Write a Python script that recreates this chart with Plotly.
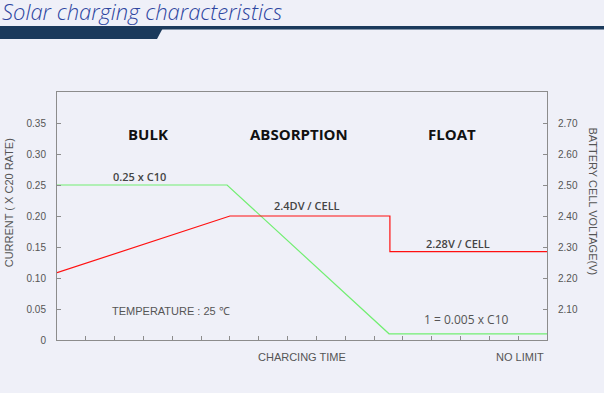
import plotly.graph_objects as go

# ---- data ----
time_current = [0, 5.9, 11.52, 17]
current_c20 = [0.25, 0.25, 0.01, 0.01]

time_voltage = [0, 6.0, 11.55, 11.55, 17]
cell_voltage = [2.217, 2.40, 2.40, 2.285, 2.285]

current_ticks = [0, 0.05, 0.10, 0.15, 0.20, 0.25, 0.30, 0.35]
current_labels = ["0", "0.05", "0.10", "0.15", "0.20", "0.25", "0.30", "0.35"]
voltage_ticks = [2.10, 2.20, 2.30, 2.40, 2.50, 2.60, 2.70]
voltage_labels = ["2.10", "2.20", "2.30", "2.40", "2.50", "2.60", "2.70"]
time_ticks = list(range(1, 17))

W, H = 604, 393
L, R, T, B = 57, 57, 92, 53
PW, PH = W - L - R, H - T - B

def px(x):
    return (x - L) / PW

def py(y):
    return (H - B - y) / PH

BG = "#eff0f8"
AXC = "#8c8c8c"
TICKF = dict(family="Liberation Sans, Arial, sans-serif", size=10, color="#555555")
SMALLF = dict(family="Liberation Sans, Arial", size=11, color="#555555")

fig = go.Figure()
fig.add_trace(go.Scatter(x=time_current, y=current_c20, mode="lines",
                         line=dict(color="#72ee72", width=1.2), yaxis="y",
                         hoverinfo="skip", showlegend=False))
fig.add_trace(go.Scatter(x=time_voltage, y=cell_voltage, mode="lines",
                         line=dict(color="#ff1010", width=1.2), yaxis="y2",
                         hoverinfo="skip", showlegend=False))

fig.update_layout(
    width=W, height=H,
    margin=dict(l=L, r=R, t=T, b=B, pad=0),
    paper_bgcolor=BG, plot_bgcolor=BG,
    showlegend=False,
    xaxis=dict(range=[0, 17], tickvals=time_ticks, showticklabels=False,
               ticks="inside", ticklen=4, tickcolor=AXC, showgrid=False,
               zeroline=False, showline=True, linecolor=AXC, linewidth=1,
               mirror=True, fixedrange=True),
    yaxis=dict(range=[0, 0.4], tickvals=current_ticks, ticktext=current_labels,
               ticks="inside", ticklen=4, tickcolor=AXC, tickfont=TICKF,
               ticklabelstandoff=8, showgrid=False, zeroline=False,
               showline=True, linecolor=AXC, linewidth=1, fixedrange=True),
    yaxis2=dict(range=[2.0, 2.8], tickvals=voltage_ticks, ticktext=voltage_labels,
                overlaying="y", side="right",
                ticks="inside", ticklen=4, tickcolor=AXC, tickfont=TICKF,
                ticklabelstandoff=8, showgrid=False, zeroline=False,
                showline=True, linecolor=AXC, linewidth=1, fixedrange=True),
)

# header decoration
NAVY = "#1b3a5c"
fig.add_shape(type="rect", xref="paper", yref="paper",
              x0=px(0), x1=px(W), y0=py(29.5), y1=py(26),
              fillcolor=NAVY, line=dict(width=0), layer="above")
fig.add_shape(type="path", xref="paper", yref="paper",
              path=f"M {px(0)},{py(26)} L {px(164)},{py(26)} L {px(157)},{py(39)} L {px(0)},{py(39)} Z",
              fillcolor=NAVY, line=dict(width=0), layer="above")

ann = []
# title
ann.append(dict(text="Solar charging characteristics", xref="paper", yref="paper",
                x=px(0), y=py(11), xanchor="left", yanchor="middle", showarrow=False,
                font=dict(family="Open Sans", size=22, color="#2d45a0",
                          style="italic", weight=300)))
# axis titles
ann.append(dict(text="CURRENT ( X C20 RATE)", xref="paper", yref="paper",
                x=px(9), y=py(203.3), textangle=-90, showarrow=False,
                xanchor="center", yanchor="middle", font=SMALLF))
ann.append(dict(text="BATTERY CELL VOLTAGE(V)", xref="paper", yref="paper",
                x=px(593.3), y=py(201.7), textangle=90, showarrow=False,
                xanchor="center", yanchor="middle", font=SMALLF))

phase_font = dict(family="Open Sans", size=15, color="#111111", weight=700)
for txt, xv in [("BULK", 3.147), ("ABSORPTION", 8.40), ("FLOAT", 13.70)]:
    ann.append(dict(text=txt, x=xv, y=0.3318, xref="x", yref="y", showarrow=False,
                    xanchor="center", yanchor="middle", font=phase_font))

label_font = dict(family="Open Sans", size=11, color="#444444", weight=600)
for txt, xv, yv in [("0.25 x C10", 2.856, 0.2634),
                    ("2.4DV / CELL", 8.66, 0.2173),
                    ("2.28V / CELL", 13.92, 0.156)]:
    ann.append(dict(text=txt, x=xv, y=yv, xref="x", yref="y", showarrow=False,
                    xanchor="center", yanchor="middle", font=label_font))

ann.append(dict(text="1 = 0.005 x C10", x=14.18, y=0.0323, xref="x", yref="y",
                showarrow=False, xanchor="center", yanchor="middle",
                font=dict(family="Open Sans", size=12, color="#555555")))
ann.append(dict(text="TEMPERATURE : 25 ℃", x=3.95, y=0.0473, xref="x", yref="y",
                showarrow=False, xanchor="center", yanchor="middle", font=SMALLF))
ann.append(dict(text="CHARCING TIME", x=px(301.7), y=py(357), xref="paper", yref="paper",
                showarrow=False, xanchor="center", yanchor="middle", font=SMALLF))
ann.append(dict(text="NO LIMIT", x=px(520), y=py(356.7), xref="paper", yref="paper",
                showarrow=False, xanchor="center", yanchor="middle", font=SMALLF))

fig.update_layout(annotations=ann)
fig.write_html("out.html", config={"displayModeBar": False},
               post_script="document.body.style.margin='0';document.body.style.padding='0';"
                           "document.body.style.background='" + BG + "';"
                           "document.documentElement.style.background='" + BG + "';")
